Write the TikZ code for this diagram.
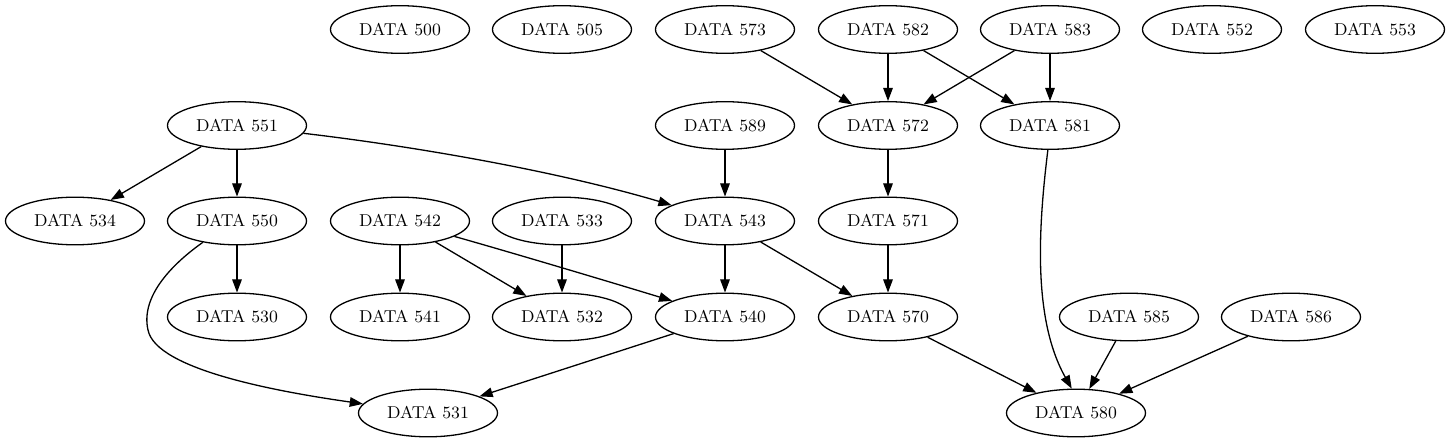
\documentclass[tikz,border=0pt]{standalone}
\usetikzlibrary{shapes.geometric,arrows.meta}
\tikzset{
  dnode/.style={ellipse,draw,line width=0.65pt,minimum width=69.5pt,minimum height=23.8pt,inner sep=0pt,font=\fontsize{8.6pt}{10pt}\selectfont},
  edge/.style={line width=0.65pt,-{Triangle[length=6.6pt,width=4.8pt]}}
}
\begin{document}
\begin{tikzpicture}[x=0.5pt,y=-0.5pt]
\useasboundingbox (0,0) rectangle (1451,443);
% row 1
\node[dnode] (n500) at (400,29.5) {DATA 500};
\node[dnode] (n505) at (562,29.5) {DATA 505};
\node[dnode] (n573) at (725,29.5) {DATA 573};
\node[dnode] (n582) at (888,29.5) {DATA 582};
\node[dnode] (n583) at (1050,29.5) {DATA 583};
\node[dnode] (n552) at (1212,29.5) {DATA 552};
\node[dnode] (n553) at (1375,29.5) {DATA 553};
% row 2
\node[dnode] (n551) at (237,125.5) {DATA 551};
\node[dnode] (n589) at (725,125.5) {DATA 589};
\node[dnode] (n572) at (888,125.5) {DATA 572};
\node[dnode] (n581) at (1050,125.5) {DATA 581};
% row 3
\node[dnode] (n534) at (75,221) {DATA 534};
\node[dnode] (n550) at (237,221) {DATA 550};
\node[dnode] (n542) at (400,221) {DATA 542};
\node[dnode] (n533) at (562,221) {DATA 533};
\node[dnode] (n543) at (725,221) {DATA 543};
\node[dnode] (n571) at (888,221) {DATA 571};
% row 4
\node[dnode] (n530) at (237,317) {DATA 530};
\node[dnode] (n541) at (400,317) {DATA 541};
\node[dnode] (n532) at (562,317) {DATA 532};
\node[dnode] (n540) at (725,317) {DATA 540};
\node[dnode] (n570) at (888,317) {DATA 570};
\node[dnode] (n585) at (1129,317) {DATA 585};
\node[dnode] (n586) at (1291,317) {DATA 586};
% row 5
\node[dnode] (n531) at (428,413) {DATA 531};
\node[dnode] (n580) at (1076,413) {DATA 580};
% edges
\draw[edge] (n573) -- (n572);
\draw[edge] (n582) -- (n572);
\draw[edge] (n582) -- (n581);
\draw[edge] (n583) -- (n572);
\draw[edge] (n583) -- (n581);
\draw[edge] (n589) -- (n543);
\draw[edge] (n572) -- (n571);
\draw[edge] (n571) -- (n570);
\draw[edge] (n581.265) .. controls (1038,230) and (1033,320) .. (n580.100);
\draw[edge] (n551) -- (n534);
\draw[edge] (n551) -- (n550);
\draw[edge] (n551) .. controls (420,147) and (560,172) .. (n543);
\draw[edge] (n550) -- (n530);
\draw[edge] (n550.212) .. controls (175,262) and (140,295) .. (148,330) .. controls (156,370) and (280,392) .. (n531.172);
\draw[edge] (n542) -- (n541);
\draw[edge] (n542) -- (n532);
\draw[edge] (n542) .. controls (520,255) and (620,285) .. (n540);
\draw[edge] (n533) -- (n532);
\draw[edge] (n543) -- (n540);
\draw[edge] (n543) -- (n570);
\draw[edge] (n540) -- (n531);
\draw[edge] (n570) -- (n580);
\draw[edge] (n585) -- (n580);
\draw[edge] (n586) -- (n580);
\end{tikzpicture}
\end{document}
